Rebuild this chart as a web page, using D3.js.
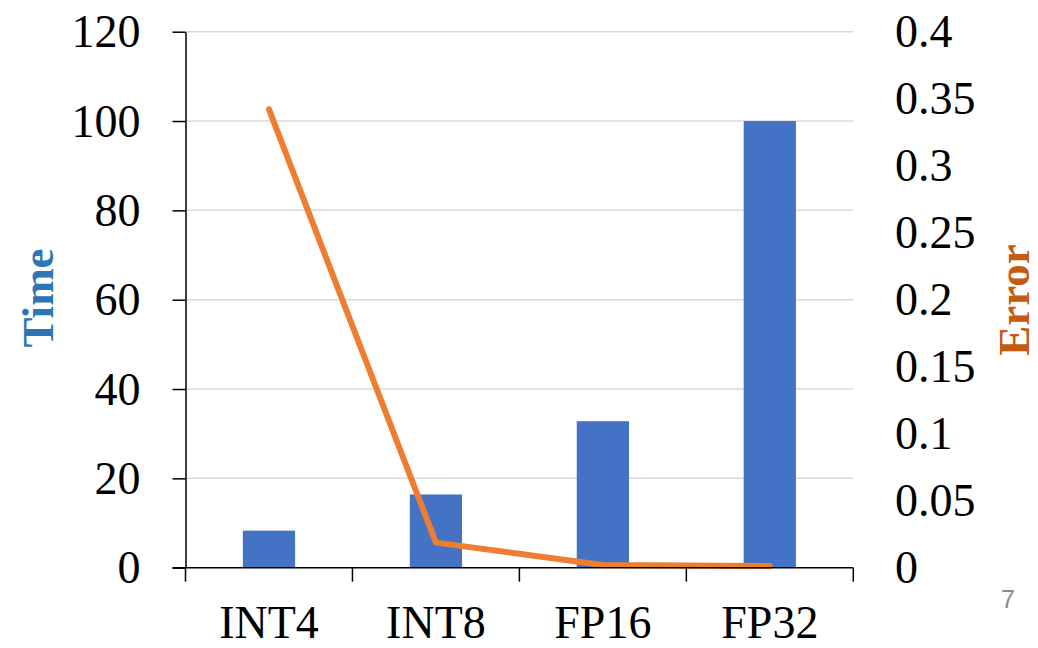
<!DOCTYPE html>
<html>
<head>
<meta charset="utf-8">
<script src="https://cdn.jsdelivr.net/npm/d3@7"></script>
<style>
  body { margin: 0; background: #fff; }
  svg { display: block; }
  .tick-label { font-family: "Liberation Serif", "Times New Roman", serif; font-size: 46px; fill: #000; }
</style>
</head>
<body>
<svg id="chart" width="1038" height="648"></svg>
<script>
// chart data
const categories = ['INT4', 'INT8', 'FP16', 'FP32'];
const timeValues = [8.3, 16.4, 32.8, 100];
const errorValues = [0.342, 0.0187, 0.002, 0.0013];
const timeTicks = [0, 20, 40, 60, 80, 100, 120];
const errorTicks = [0, 0.05, 0.1, 0.15, 0.2, 0.25, 0.3, 0.35, 0.4];

let svg = d3.select('#chart');

const plotLeft = 185.5, plotRight = 853.3, plotTop = 31.7, plotBottom = 567.7;

let x = d3.scaleBand().domain(categories).range([plotLeft, plotRight]).padding(0);
let yTime = d3.scaleLinear().domain([0, 120]).range([plotBottom, plotTop]);
let yErr = d3.scaleLinear().domain([0, 0.4]).range([plotBottom, plotTop]);

// gridlines
svg.append('g').selectAll('line')
    .data(timeTicks.filter(d => d > 0))
    .join('line')
    .attr('x1', plotLeft).attr('x2', plotRight)
    .attr('y1', d => yTime(d)).attr('y2', d => yTime(d))
    .attr('stroke', '#d9d9d9').attr('stroke-width', 1.5);

// bars
const barW = x.bandwidth() * 0.313;
svg.append('g').selectAll('rect')
    .data(categories)
    .join('rect')
    .attr('x', (d) => x(d) + x.bandwidth()/2 - barW/2)
    .attr('width', barW)
    .attr('y', (d, i) => yTime(timeValues[i]))
    .attr('height', (d, i) => yTime(0) - yTime(timeValues[i]))
    .attr('fill', '#4472c4');

// error line
let line = d3.line()
    .x((d, i) => x(categories[i]) + x.bandwidth()/2)
    .y(d => yErr(d));
svg.append('path')
    .attr('d', line(errorValues))
    .attr('fill', 'none')
    .attr('stroke', '#ed7d31')
    .attr('stroke-width', 6)
    .attr('stroke-linejoin', 'round')
    .attr('stroke-linecap', 'round');

// left axis
let leftAxis = svg.append('g')
    .attr('transform', 'translate(' + plotLeft + ',0)')
    .call(d3.axisLeft(yTime).tickValues(timeTicks).tickSize(13).tickSizeOuter(0).tickPadding(32));
leftAxis.select('.domain').attr('stroke', '#000').attr('stroke-width', 1.5);
leftAxis.selectAll('.tick line').attr('stroke', '#000').attr('stroke-width', 1.5);
leftAxis.selectAll('.tick text').attr('class', 'tick-label').attr('font-size', null).attr('font-family', null)
    .attr('dy', '0.33em');
leftAxis.attr('font-size', null).attr('font-family', null);

// bottom axis (ticks on band edges)
let bottomAxis = svg.append('g').attr('transform', 'translate(0,' + plotBottom + ')');
bottomAxis.append('line').attr('x1', plotLeft - 13).attr('x2', plotRight).attr('y1', 0).attr('y2', 0)
    .attr('stroke', '#000').attr('stroke-width', 1.5);
let edges = categories.map(c => x(c)).concat([x.range()[1]]);
bottomAxis.selectAll('line.edge')
    .data(edges)
    .join('line').classed('edge', true)
    .attr('x1', d => d).attr('x2', d => d).attr('y1', 0).attr('y2', 14)
    .attr('stroke', '#000').attr('stroke-width', 1.5);
bottomAxis.selectAll('text')
    .data(categories)
    .join('text').classed('tick-label', true)
    .attr('x', d => x(d) + x.bandwidth()/2)
    .attr('y', 70)
    .attr('text-anchor', 'middle')
    .text(d => d);

// right axis labels (no line)
svg.append('g').selectAll('text')
    .data(errorTicks)
    .join('text').classed('tick-label', true)
    .attr('x', 895)
    .attr('y', d => yErr(d))
    .attr('dy', '0.33em')
    .text(d => d3.format('~g')(d));

// axis titles
svg.append('text')
    .attr('transform', 'translate(53,298) rotate(-90)')
    .attr('text-anchor', 'middle')
    .style('font-family', '"Liberation Serif", serif').style('font-weight', 'bold').style('font-size', '45px')
    .attr('fill', '#2e75b6')
    .text('Time');
svg.append('text')
    .attr('transform', 'translate(1029,300) rotate(-90)')
    .attr('text-anchor', 'middle')
    .style('font-family', '"Liberation Serif", serif').style('font-weight', 'bold').style('font-size', '45px')
    .attr('fill', '#c55a11')
    .text('Error');

// slide number
svg.append('text')
    .attr('x', 1008).attr('y', 608)
    .attr('text-anchor', 'middle')
    .style('font-family', '"Liberation Sans", Arial, sans-serif').style('font-size', '25px')
    .attr('fill', '#898989')
    .text('7');
</script>
</body>
</html>
